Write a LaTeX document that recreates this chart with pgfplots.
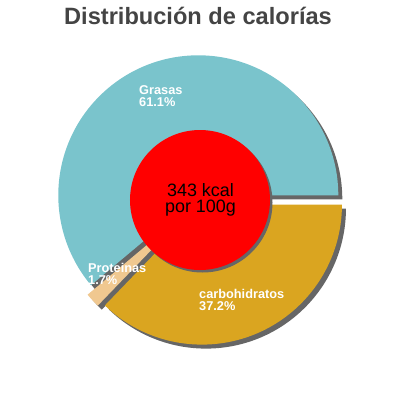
\documentclass[border=0pt]{standalone}
\usepackage{pgfplots}
\usepackage{pgfplotstable}
\usepackage{fontspec}
\pgfplotsset{compat=1.18}
\setmainfont{Liberation Sans}

\definecolor{grasas}{HTML}{7AC4CC}
\definecolor{prot}{HTML}{F0C890}
\definecolor{carbo}{HTML}{DAA520}
\definecolor{sombra}{HTML}{666666}
\definecolor{titulo}{HTML}{444444}

% share of calories, %; explode offset in px
\pgfplotstableread{
name pct explode
Grasas 61.1 5
Proteinas 1.7 7
carbohidratos 37.2 5
}\kcaltable

\newcommand\slice[5]{%
  \fill[#5] (axis cs:#1,#2) -- ++(#3:140bp) arc[start angle=#3, end angle=#4, radius=140bp] -- cycle;}

\begin{document}
\begin{tikzpicture}
\pgfplotstablegetelem{0}{pct}\of\kcaltable\let\pA\pgfplotsretval
\pgfplotstablegetelem{1}{pct}\of\kcaltable\let\pB\pgfplotsretval
\pgfplotstablegetelem{0}{explode}\of\kcaltable\let\eA\pgfplotsretval
\pgfplotstablegetelem{1}{explode}\of\kcaltable\let\eB\pgfplotsretval
\pgfplotstablegetelem{2}{explode}\of\kcaltable\let\eC\pgfplotsretval
\pgfmathsetmacro\aA{3.6*\pA}
\pgfmathsetmacro\aB{\aA+3.6*\pB}
\pgfmathsetmacro\mA{\aA/2}
\pgfmathsetmacro\mB{(\aA+\aB)/2}
\pgfmathsetmacro\mC{(\aB+360)/2}
\pgfmathsetmacro\xA{200+\eA*cos(\mA)}\pgfmathsetmacro\yA{200-\eA*sin(\mA)}
\pgfmathsetmacro\xB{200+\eB*cos(\mB)}\pgfmathsetmacro\yB{200-\eB*sin(\mB)}
\pgfmathsetmacro\xC{200+\eC*cos(\mC)}\pgfmathsetmacro\yC{200-\eC*sin(\mC)}
\begin{axis}[
  width=400bp, height=400bp, scale only axis,
  xmin=0, xmax=400, ymin=0, ymax=400, y dir=reverse,
  hide axis, clip=false,
]
\path (axis cs:0,0) rectangle (axis cs:400,400);
% slices with drop shadows
\slice{\xA}{\yA}{0}{\aA}{sombra, xshift=4bp, yshift=-4bp}
\slice{\xA}{\yA}{0}{\aA}{grasas}
\slice{\xB}{\yB}{\aA}{\aB}{sombra, xshift=4bp, yshift=-4bp}
\slice{\xB}{\yB}{\aA}{\aB}{prot}
\slice{\xC}{\yC}{\aB}{360}{sombra, xshift=4bp, yshift=-4bp}
\slice{\xC}{\yC}{\aB}{360}{carbo}
% centre disc
\fill[sombra] (axis cs:202.5,202.5) circle[radius=70bp];
\fill[red] (axis cs:200,200) circle[radius=70bp];
\node[anchor=base, font=\fontsize{18}{18}\selectfont, inner sep=0pt] at (axis cs:200.5,196) {343 kcal};
\node[anchor=base, font=\fontsize{18}{18}\selectfont, inner sep=0pt] at (axis cs:200.5,212) {por 100g};
% slice labels
\tikzset{lbl/.style={anchor=base west, inner sep=0pt, text=white, font=\fontsize{12.8}{13}\selectfont\bfseries}}
\node[lbl] at (axis cs:139,94) {Grasas};
\node[lbl] at (axis cs:139,106) {61.1\%};
\node[lbl] at (axis cs:88,272) {Proteinas};
\node[lbl] at (axis cs:88,284) {1.7\%};
\node[lbl] at (axis cs:199,298) {carbohidratos};
\node[lbl] at (axis cs:199,310) {37.2\%};
% title
\node[anchor=base, inner sep=0pt, text=titulo, font=\fontsize{23.7}{24}\selectfont\bfseries] at (axis cs:198,24) {Distribución de calorías};
\end{axis}
\end{tikzpicture}
\end{document}
